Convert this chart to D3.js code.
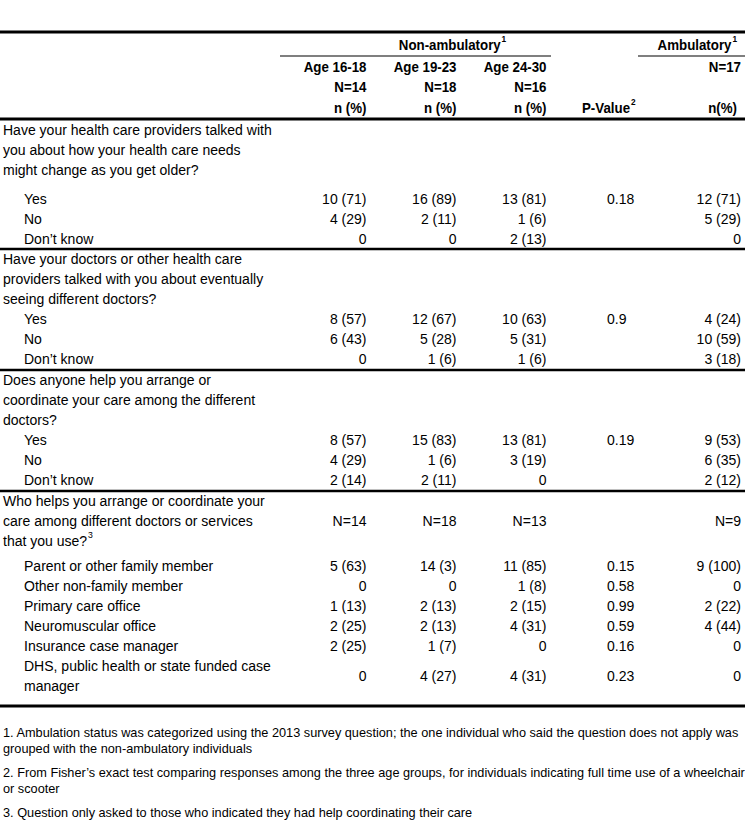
<!DOCTYPE html>
<html>
<head>
<meta charset="utf-8">
<script src="https://cdn.jsdelivr.net/npm/d3@7"></script>
<style>
html,body{margin:0;padding:0;background:#fff;}
svg{display:block;}
</style>
</head>
<body>
<svg id="chart" width="745" height="820"></svg>
<script>
// ---------------- DATA ----------------
const groupLabels = ["Non-ambulatory", "Ambulatory"];
const ageGroups = ["Age 16-18", "Age 19-23", "Age 24-30"];
const ageN = ["N=14", "N=18", "N=16"];
const ambN = "N=17";
const unitLabel = "n (%)";
const ambUnitLabel = "n(%)";
const pLabel = "P-Value";

const q1Text = ["Have your health care providers talked with", "you about how your health care needs", "might change as you get older?"];
const q1Rows = [["Yes"], ["No"], ["Don\u2019t know"]];
const q1Values = [
  ["10 (71)", "16 (89)", "13 (81)", "0.18", "12 (71)"],
  ["4 (29)", "2 (11)", "1 (6)", "", "5 (29)"],
  ["0", "0", "2 (13)", "", "0"]
];

const q2Text = ["Have your doctors or other health care", "providers talked with you about eventually", "seeing different doctors?"];
const q2Rows = [["Yes"], ["No"], ["Don\u2019t know"]];
const q2Values = [
  ["8 (57)", "12 (67)", "10 (63)", "0.9", "4 (24)"],
  ["6 (43)", "5 (28)", "5 (31)", "", "10 (59)"],
  ["0", "1 (6)", "1 (6)", "", "3 (18)"]
];

const q3Text = ["Does anyone help you arrange or", "coordinate your care among the different", "doctors?"];
const q3Rows = [["Yes"], ["No"], ["Don\u2019t know"]];
const q3Values = [
  ["8 (57)", "15 (83)", "13 (81)", "0.19", "9 (53)"],
  ["4 (29)", "1 (6)", "3 (19)", "", "6 (35)"],
  ["2 (14)", "2 (11)", "0", "", "2 (12)"]
];

const q4Text = ["Who helps you arrange or coordinate your", "care among different doctors or services", "that you use?"];
const q4N = ["N=14", "N=18", "N=13", "", "N=9"];
const q4Rows = [["Parent or other family member"], ["Other non-family member"], ["Primary care office"], ["Neuromuscular office"], ["Insurance case manager"], ["DHS, public health or state funded case", "manager"]];
const q4Values = [
  ["5 (63)", "14 (3)", "11 (85)", "0.15", "9 (100)"],
  ["0", "0", "1 (8)", "0.58", "0"],
  ["1 (13)", "2 (13)", "2 (15)", "0.99", "2 (22)"],
  ["2 (25)", "2 (13)", "4 (31)", "0.59", "4 (44)"],
  ["2 (25)", "1 (7)", "0", "0.16", "0"],
  ["0", "4 (27)", "4 (31)", "0.23", "0"]
];

const footnotes = [
  ["1. Ambulation status was categorized using the 2013 survey question; the one individual who said the question does not apply was", "grouped with the non-ambulatory individuals"],
  ["2. From Fisher\u2019s exact test comparing responses among the three age groups, for individuals indicating full time use of a wheelchair", "or scooter"],
  ["3. Question only asked to those who indicated they had help coordinating their care"]
];

const sections = [
  {text: q1Text, rows: q1Rows, values: q1Values, gap: 0.45, pad: 0.5, sup: null, qValues: null},
  {text: q2Text, rows: q2Rows, values: q2Values, gap: 0, pad: 0.55, sup: null, qValues: null},
  {text: q3Text, rows: q3Rows, values: q3Values, gap: 0, pad: 0.55, sup: null, qValues: null},
  {text: q4Text, rows: q4Rows, values: q4Values, gap: 0.25, pad: 1.0, sup: "3", qValues: q4N}
];

// ---------------- LAYOUT ----------------
const W = 745;
const FONT = "'Liberation Sans', Arial, sans-serif";
const svg = d3.select("#chart");
const g = svg.append("g");

const colX = d3.scalePoint().domain(ageGroups).range([366.5, 546.5]);
const pX = 607;
const ambX = 741;
const lineH = 20;
const rowY = d3.scaleLinear().domain([0, 1]).range([0, lineH]);

function measure(str, size, weight) {
  const t = svg.append("text").attr("font-family", FONT).attr("font-size", size).attr("font-weight", weight).text(str);
  const w = t.node().getComputedTextLength();
  t.remove();
  return w;
}
const MAIN = 14.6, FOOT = 13;
const sxReg = 269 / measure(q1Text[0], MAIN, "normal");
const sxBold = 102 / measure(groupLabels[0], MAIN, "bold");
const sxFoot = 736 / measure(footnotes[0][0], FOOT, "normal");

function label(x, y, str, opt = {}) {
  const size = opt.size || MAIN;
  const bold = !!opt.bold;
  const sx = opt.sx || (bold ? sxBold : sxReg);
  const t = g.append("text")
    .attr("transform", `translate(${x},${y}) scale(${sx},1)`)
    .attr("font-family", FONT)
    .attr("font-size", size)
    .attr("font-weight", bold ? "bold" : "normal")
    .attr("text-anchor", opt.anchor || "start")
    .attr("dy", "0.35em")
    .attr("fill", "#000");
  t.append("tspan").text(str);
  if (opt.sup) {
    t.append("tspan").attr("font-size", size * 0.62).attr("dy", "-0.85em").attr("dx", 1).text(opt.sup);
  }
  return t;
}

function hline(x1, x2, y, w) {
  g.append("line").attr("x1", x1).attr("x2", x2).attr("y1", y).attr("y2", y)
    .attr("stroke", "#000").attr("stroke-width", w);
}

// ---------------- HEADER ----------------
const hdr = {top: 32, group: 45, groupLine: 56, age: 67, n: 87, unit: 108, bottom: 119};
hline(0, W, hdr.top, 3);
label(d3.mean(colX.range()) - 4, hdr.group, groupLabels[0], {bold: true, anchor: "middle", sup: "1"});
label(ambX - 4, hdr.group, groupLabels[1], {bold: true, anchor: "end", sup: "1"});
hline(280, 551, hdr.groupLine, 1.2);
hline(638, W, hdr.groupLine, 1.2);
ageGroups.forEach((a, i) => {
  label(colX(a), hdr.age, a, {bold: true, anchor: "end"});
  label(colX(a), hdr.n, ageN[i], {bold: true, anchor: "end"});
  label(colX(a), hdr.unit, unitLabel, {bold: true, anchor: "end"});
});
label(ambX, hdr.age, ambN, {bold: true, anchor: "end"});
label(ambX - 4, hdr.unit, ambUnitLabel, {bold: true, anchor: "end"});
label(582, hdr.unit, pLabel, {bold: true, anchor: "start", sup: "2"});
hline(0, W, hdr.bottom, 3);

// ---------------- BODY ----------------
function drawValues(vals, y) {
  vals.forEach((v, j) => {
    if (!v) return;
    if (j < 3) label(colX(ageGroups[j]), y, v, {anchor: "end"});
    else if (j === 3) label(pX, y, v, {anchor: "start"});
    else label(ambX, y, v, {anchor: "end"});
  });
}

let cursor = hdr.bottom + 11;
sections.forEach((s, si) => {
  const qStart = cursor;
  s.text.forEach((line, li) => {
    const isLast = li === s.text.length - 1;
    label(3, cursor, line, {sup: isLast ? s.sup : null});
    cursor += rowY(1);
  });
  if (s.qValues) drawValues(s.qValues, qStart + rowY((s.text.length - 1) / 2));
  cursor += rowY(s.gap);
  s.rows.forEach((r, ri) => {
    const rStart = cursor;
    r.forEach(line => { label(24, cursor, line); cursor += rowY(1); });
    drawValues(s.values[ri], rStart + rowY((r.length - 1) / 2));
  });
  const sepY = cursor - rowY(1) + rowY(s.pad);
  const isLastSection = si === sections.length - 1;
  hline(0, W, sepY, isLastSection ? 3 : 2.5);
  cursor = sepY + rowY(0.5);
});

// ---------------- FOOTNOTES ----------------
let fy = cursor + 16;
footnotes.forEach(f => {
  f.forEach(line => { label(3, fy, line, {size: FOOT, sx: sxFoot}); fy += 16; });
  fy += 8;
});
</script>
</body>
</html>
